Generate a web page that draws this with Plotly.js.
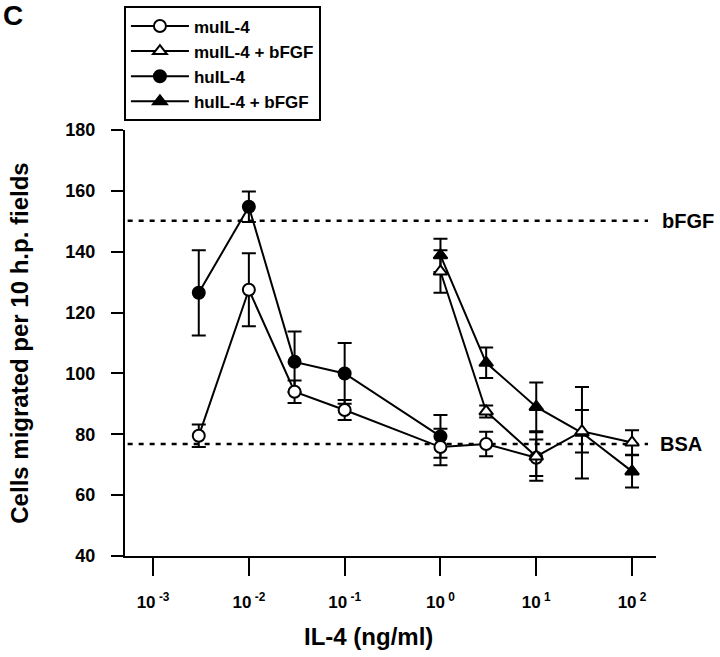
<!DOCTYPE html>
<html>
<head>
<meta charset="utf-8">
<script src="https://cdn.plot.ly/plotly-3.0.1.min.js"></script>
<style>html,body{margin:0;padding:0;background:#fff;}#chart{width:720px;height:657px;}</style>
</head>
<body>
<div id="chart"></div>
<script>
// Data
var concMu = [0.003, 0.01, 0.03, 0.1, 1, 3, 10];
var muIL4 = [79.5, 127.5, 94, 88, 75.8, 76.8, 72.3];
var muIL4Err = [3.7, 12, 3.7, 3.3, 6, 4, 6];

var concHu = [0.003, 0.01, 0.03, 0.1, 1];
var huIL4 = [126.5, 154.8, 103.8, 100, 79.3];
var huIL4Err = [14, 5, 10, 10, 7];

var concBf = [1, 3, 10, 30, 100];
var muIL4bFGF = [133.5, 87.5, 72.7, 81, 77.3];
var muIL4bFGFErr = [7, 2, 8, 7, 4];
var huIL4bFGF = [138.8, 103.5, 89, 80.5, 67.8];
var huIL4bFGFErr = [5.5, 5, 8, 15, 5.3];

var bfgfLevel = 150.2;
var bsaLevel = 76.8;

var xTickVals = [0.001, 0.01, 0.1, 1, 10, 100];
var xTickText = ['10<sup> -3</sup>', '10<sup> -2</sup>', '10<sup> -1</sup>', '10<sup> 0</sup>', '10<sup> 1</sup>', '10<sup> 2</sup>'];
var yTickVals = [40, 60, 80, 100, 120, 140, 160, 180];

var FONT = 'Arial, "Liberation Sans", Helvetica, sans-serif';

function errSpec(arr) {
  return {type: 'data', array: arr, visible: true, color: '#000', thickness: 2, width: 7};
}
function trace(name, x, y, err, symbol, filled, rank) {
  return {
    type: 'scatter', mode: 'lines+markers', name: name, x: x, y: y,
    legendrank: rank,
    line: {color: '#000', width: 2},
    marker: {symbol: symbol, size: 12, color: filled ? '#000' : '#fff',
             line: {color: '#000', width: 2}},
    error_y: errSpec(err)
  };
}

var data = [
  trace('huIL-4 + bFGF', concBf, huIL4bFGF, huIL4bFGFErr, 'triangle-up', true, 4),
  trace('huIL-4', concHu, huIL4, huIL4Err, 'circle', true, 3),
  trace('muIL-4', concMu, muIL4, muIL4Err, 'circle', false, 1),
  trace('muIL-4 + bFGF', concBf, muIL4bFGF, muIL4bFGFErr, 'triangle-up', false, 2)
];

var layout = {
  width: 720, height: 657,
  margin: {l: 125, r: 64, t: 130, b: 101, autoexpand: false},
  paper_bgcolor: '#fff', plot_bgcolor: '#fff',
  font: {family: FONT, color: '#000', size: 16, weight: 'bold'},
  showlegend: true,
  legend: {
    x: -0.002, y: 1.29, xanchor: 'left', yanchor: 'top',
    bordercolor: '#000', borderwidth: 2, bgcolor: '#fff',
    font: {family: FONT, size: 17, color: '#000', weight: 'bold'},
    tracegroupgap: 0, itemwidth: 58
  },
  xaxis: {
    type: 'log', range: [-3.293, 2.25],
    tickvals: xTickVals, ticktext: xTickText,
    ticks: 'outside', ticklen: 18, tickwidth: 2, tickcolor: '#000',
    ticklabelstandoff: 12,
    showline: true, linecolor: '#000', linewidth: 2,
    showgrid: false, zeroline: false, automargin: false,
    tickfont: {family: FONT, size: 17, weight: 'bold'}
  },
  yaxis: {
    range: [40, 180],
    tickvals: yTickVals,
    ticks: 'outside', ticklen: 12, tickwidth: 2, tickcolor: '#000',
    ticklabelstandoff: 12,
    showline: true, linecolor: '#000', linewidth: 2,
    showgrid: false, zeroline: false, automargin: false,
    tickfont: {family: FONT, size: 18, weight: 'bold'},
    title: {text: 'Cells migrated per 10 h.p. fields', font: {family: FONT, size: 24, weight: 'bold'}, standoff: 30}
  },
  shapes: [
    {type: 'line', xref: 'paper', yref: 'y', x0: 0.005, x1: 0.985, y0: bfgfLevel, y1: bfgfLevel,
     line: {color: '#000', width: 2.5, dash: '5px,6px'}, layer: 'below'},
    {type: 'line', xref: 'paper', yref: 'y', x0: 0.005, x1: 0.985, y0: bsaLevel, y1: bsaLevel,
     line: {color: '#000', width: 2.5, dash: '5px,6px'}, layer: 'below'}
  ],
  annotations: [
    {xref: 'paper', yref: 'y', x: 1.008, y: bfgfLevel, xanchor: 'left', yanchor: 'middle', showarrow: false,
     text: 'bFGF', font: {family: FONT, size: 20, weight: 'bold'}},
    {xref: 'paper', yref: 'y', x: 1.004, y: bsaLevel, xanchor: 'left', yanchor: 'middle', showarrow: false,
     text: 'BSA', font: {family: FONT, size: 20, weight: 'bold'}},
    {xref: 'paper', yref: 'paper', x: 0.458, y: -0.19, xanchor: 'center', yanchor: 'middle', showarrow: false,
     text: 'IL-4 (ng/ml)', font: {family: FONT, size: 24, weight: 'bold'}},
    {xref: 'paper', yref: 'paper', x: -0.233, y: 1.31, xanchor: 'left', yanchor: 'top', showarrow: false,
     text: 'C', font: {family: FONT, size: 28, weight: 'bold'}}
  ]
};

Plotly.newPlot('chart', data, layout, {staticPlot: true});
</script>
</body>
</html>
